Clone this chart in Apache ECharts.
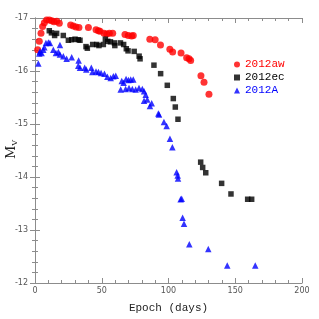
<!DOCTYPE html>
<html><head><meta charset="utf-8">
<script src="https://cdn.jsdelivr.net/npm/echarts@6/dist/echarts.min.js"></script>
<style>html,body{margin:0;padding:0;background:#fff}#c{width:319px;height:319px}</style>
</head><body><div id="c"></div>
<script>
const seriesNames = ['2012aw', '2012ec', '2012A'];
const xTicks = [0, 50, 100, 150, 200];
const yTicks = [-17, -16, -15, -14, -13, -12];

const awDays = [2, 3.2, 4.5, 5.7, 7, 8.7, 10.7, 12.5, 14.2, 16.3, 18.2, 26.7, 28.7, 30.7, 32.9, 40, 45.7, 47.5, 48.7, 51.7, 53.7, 55.7, 58.2, 67.4, 69.9, 72.4, 73.6, 86, 90, 94, 101, 103.1, 109.4, 113.6, 115.4, 116.6, 124.3, 126.6, 130.3];
const awMag  = [-16.40, -16.56, -16.71, -16.84, -16.91, -16.96, -16.96, -16.95, -16.93, -16.94, -16.90, -16.87, -16.85, -16.83, -16.82, -16.82, -16.78, -16.76, -16.75, -16.71, -16.70, -16.71, -16.71, -16.69, -16.67, -16.66, -16.67, -16.60, -16.59, -16.49, -16.41, -16.36, -16.34, -16.25, -16.23, -16.20, -15.91, -15.79, -15.56];

const ecDays = [10.7, 12.3, 14.7, 16.2, 21.2, 25, 27.5, 30, 32.4, 33.7, 38.2, 39.2, 43.2, 46.2, 47.9, 51.2, 52.7, 54.5, 56.5, 59.5, 59.8, 64, 66.4, 68.4, 69.7, 74.3, 78, 78.7, 89.1, 94.1, 99.1, 103.6, 105.1, 107.1, 124.1, 125.6, 127.9, 139.8, 146.8, 159.3, 162.3];
const ecMag  = [-16.76, -16.72, -16.67, -16.71, -16.67, -16.58, -16.59, -16.60, -16.59, -16.58, -16.46, -16.43, -16.50, -16.50, -16.48, -16.50, -16.60, -16.56, -16.55, -16.53, -16.48, -16.53, -16.50, -16.42, -16.38, -16.37, -16.28, -16.23, -16.11, -15.95, -15.73, -15.48, -15.32, -15.09, -14.28, -14.18, -14.08, -13.88, -13.68, -13.58, -13.58];

const aDays = [2.5, 3.2, 3.7, 4.9, 6.2, 7, 8.2, 10, 11.2, 13.7, 15.7, 17.5, 18.7, 18.7, 21.2, 23.7, 27.5, 32.7, 32.4, 33.7, 37.2, 38.4, 42.2, 43, 45.7, 47.5, 49.5, 52, 54.2, 56.7, 58.7, 60.5, 65, 66.4, 68.2, 70, 71.7, 73.6, 64.2, 67.9, 70.4, 72.9, 75.4, 77.9, 80.4, 81.7, 82.9, 81.7, 84.1, 86.1, 87.4, 92.4, 92.9, 96.6, 98.6, 101.1, 102.9, 106.1, 106.9, 107.1, 109.1, 109.9, 110.6, 111.6, 115.6, 129.8, 144, 165];
const aMag  = [-16.14, -16.33, -16.37, -16.34, -16.40, -16.45, -16.53, -16.54, -16.53, -16.40, -16.34, -16.36, -16.49, -16.31, -16.28, -16.23, -16.26, -16.20, -16.10, -16.06, -16.06, -16.03, -16.06, -15.98, -15.99, -15.98, -15.96, -15.95, -15.89, -15.87, -15.90, -15.91, -15.81, -15.78, -15.85, -15.83, -15.84, -15.84, -15.65, -15.66, -15.68, -15.66, -15.65, -15.68, -15.66, -15.62, -15.55, -15.44, -15.46, -15.34, -15.39, -15.20, -15.18, -15.04, -14.96, -14.72, -14.56, -14.09, -14.03, -13.97, -13.58, -13.59, -13.23, -13.12, -12.73, -12.64, -12.33, -12.33];

const zip = (a, b) => a.map((v, i) => [v, b[i]]);
const colors = ['#ff0000', '#000000', '#0000ff'];
const frame = '#8c8c8c';
const tickLbl = {color: '#555', fontSize: 8, fontFamily: 'DejaVu Sans'};

function xAx(pos, show) {
  return {type: 'value', position: pos, min: 0, max: 200, interval: 50,
    axisLine: {show: true, lineStyle: {color: frame, width: 1}},
    axisTick: {show: true, inside: true, length: 5, lineStyle: {color: frame}},
    minorTick: {show: true, splitNumber: 5, length: 3, lineStyle: {color: frame}},
    splitLine: {show: false},
    axisLabel: show ? Object.assign({margin: 4, formatter: v => xTicks.includes(v) ? String(v) : ''}, tickLbl) : {show: false},
    name: show ? 'Epoch (days)' : '', nameLocation: 'middle', nameGap: 20,
    nameTextStyle: {fontFamily: "'Courier New','Liberation Mono',monospace", fontSize: 11, color: '#222'}};
}
function yAx(pos, show) {
  return {type: 'value', position: pos, min: -17, max: -12, interval: 1, inverse: true,
    axisLine: {show: true, lineStyle: {color: frame, width: 1}},
    axisTick: {show: true, inside: true, length: 5, lineStyle: {color: frame}},
    minorTick: {show: true, splitNumber: 5, length: 3, lineStyle: {color: frame}},
    splitLine: {show: false},
    axisLabel: show ? Object.assign({margin: 7, formatter: v => yTicks.includes(v) ? String(v) : ''}, tickLbl) : {show: false}};
}

const chart = echarts.init(document.getElementById('c'), null, {renderer: 'canvas'});
chart.setOption({
  animation: false,
  backgroundColor: '#fff',
  grid: {left: 35, right: 17, top: 18, bottom: 34},
  xAxis: [xAx('bottom', true), xAx('top', false)],
  yAxis: [yAx('left', true), yAx('right', false)],
  legend: {orient: 'vertical', left: 229, top: 54, itemGap: 2, itemWidth: 6, itemHeight: 6,
    textStyle: {fontFamily: "'Courier New','Liberation Mono',monospace", fontSize: 11},
    data: seriesNames.map((n, i) => ({name: n, textStyle: {color: colors[i]}}))},
  graphic: [{type: 'text', left: 5, top: 140, rotation: Math.PI / 2,
    style: {text: '{m|M}{v|V}', rich: {m: {fontFamily: 'DejaVu Serif', fontSize: 13, fill: '#222'}, v: {fontFamily: 'DejaVu Serif', fontSize: 8, fill: '#222', padding: [6, 0, 0, 0]}}}}],
  series: [
    {name: seriesNames[0], type: 'scatter', symbol: 'circle', symbolSize: 7, itemStyle: {color: colors[0]}, data: zip(awDays, awMag)},
    {name: seriesNames[1], type: 'scatter', symbol: 'rect', symbolSize: 5.5, itemStyle: {color: colors[1]}, data: zip(ecDays, ecMag)},
    {name: seriesNames[2], type: 'scatter', symbol: 'triangle', symbolSize: 6.5, itemStyle: {color: colors[2]}, data: zip(aDays, aMag)}
  ]
});
</script></body></html>
